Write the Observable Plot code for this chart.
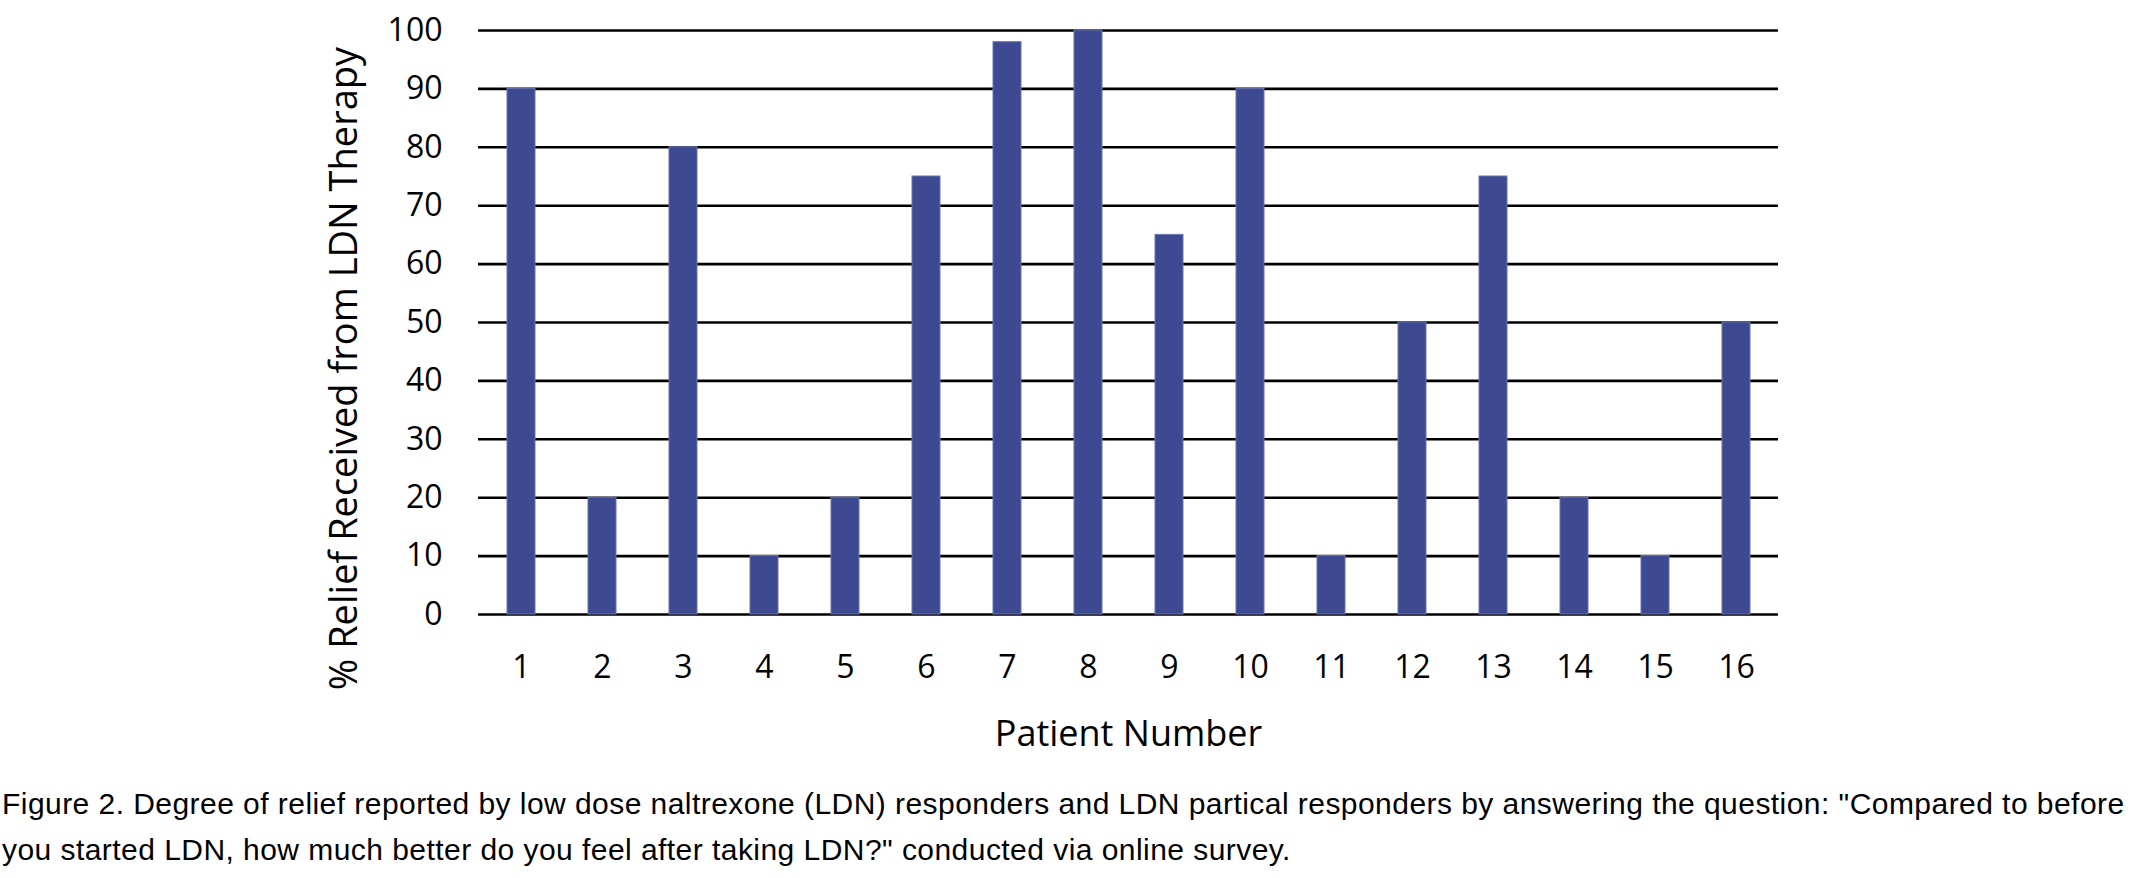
<!DOCTYPE html>
<html>
<head>
<meta charset="utf-8">
<script src="https://cdn.jsdelivr.net/npm/d3@7"></script>
<script src="https://cdn.jsdelivr.net/npm/@observablehq/plot@0.6"></script>
<style>
  html, body { margin: 0; padding: 0; background: #fff; }
  #chart svg { display: block; }
  #caption {
    font-family: "Liberation Sans Narrow", "Liberation Sans", sans-serif;
    font-size: 30px;
    letter-spacing: 0.45px;
    line-height: 46px;
    color: #000;
    margin: 21px 0 0 2px;
    white-space: nowrap;
  }
</style>
</head>
<body>
<div id="chart"></div>
<div id="caption">Figure 2. Degree of relief reported by low dose naltrexone (LDN) responders and LDN partical responders by answering the question: "Compared to before<br>you started LDN, how much better do you feel after taking LDN?" conducted via online survey.</div>
<script>
// Patients surveyed and the relief each reported (%)
const patients = [1, 2, 3, 4, 5, 6, 7, 8, 9, 10, 11, 12, 13, 14, 15, 16];
const relief = [90, 20, 80, 10, 20, 75, 98, 100, 65, 90, 10, 50, 75, 20, 10, 50];
const yTicks = [0, 10, 20, 30, 40, 50, 60, 70, 80, 90, 100];

const data = patients.map((p, i) => ({patient: p, relief: relief[i]}));

const chart = Plot.plot({
  width: 2138,
  height: 760,
  marginTop: 30,
  marginLeft: 478,
  marginRight: 360,
  marginBottom: 146,
  style: {fontFamily: "'Open Sans', sans-serif", fontSize: "32px", color: "#000", background: "#fff"},
  x: {type: "band", domain: patients, paddingInner: 0.66, paddingOuter: 0.33, align: 0.5},
  y: {domain: [0, 100]},
  marks: [
    Plot.ruleY(yTicks, {stroke: "#000", strokeWidth: 2.6}),
    Plot.barY(data, {x: "patient", y: "relief", fill: "#3d4990", stroke: "#6b74ad", strokeWidth: 1}),
    Plot.axisY(yTicks, {
      tickSize: 0, tickPadding: 36, fontSize: 32,
      label: "% Relief Received from LDN Therapy",
      labelAnchor: "center", labelOffset: 148, labelArrow: "none"
    }),
    Plot.axisX({
      tickSize: 0, tickPadding: 41, fontSize: 32,
      label: "Patient Number",
      labelAnchor: "center", labelOffset: 131, labelArrow: "none"
    })
  ]
});

// Axis titles are a little larger than the tick labels; the y title sits
// slightly below the middle of the frame
chart.querySelectorAll("g[aria-label='y-axis label'] text").forEach(t => {
  t.setAttribute("font-size", "38");
  t.setAttribute("transform", "translate(0,46) " + (t.getAttribute("transform") || ""));
});
chart.querySelectorAll("g[aria-label='x-axis label'] text").forEach(t => t.setAttribute("font-size", "36"));

document.getElementById("chart").append(chart);
</script>
</body>
</html>
